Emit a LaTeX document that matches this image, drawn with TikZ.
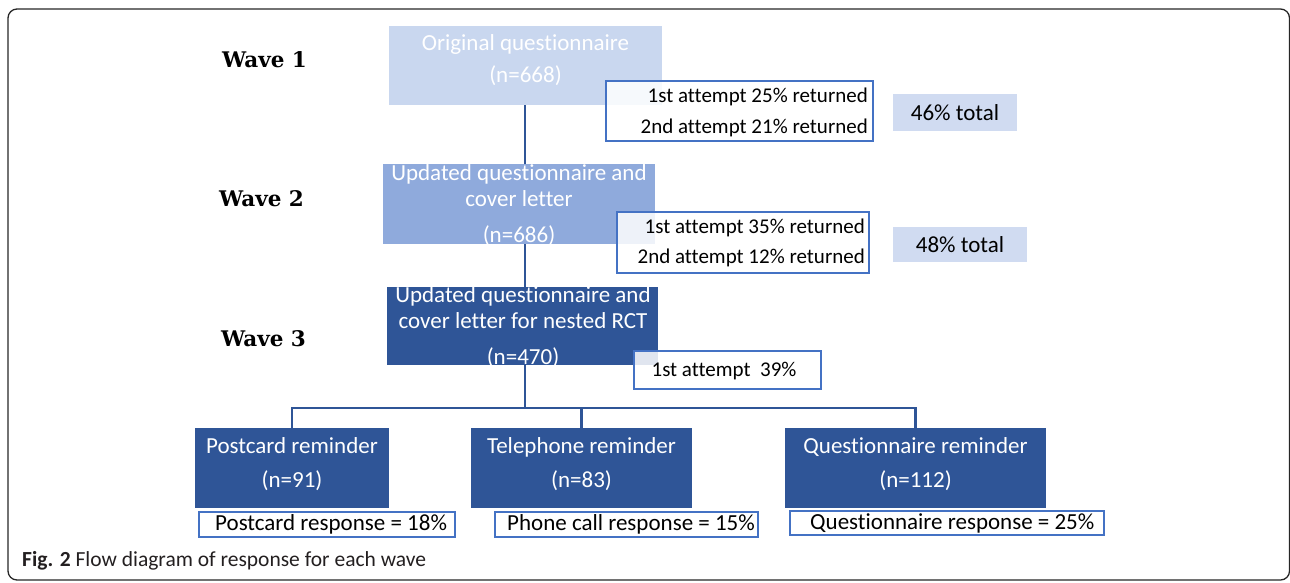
\documentclass[tikz,border=0pt]{standalone}
\usepackage{fontspec}
\setmainfont{Carlito}[Ligatures={NoCommon}]
\newfontfamily\wavefont{DejaVu Serif}
\definecolor{cA}{HTML}{C9D7EF}
\definecolor{cB}{HTML}{8FAADC}
\definecolor{cC}{HTML}{2F5597}
\definecolor{cBorder}{HTML}{4472C4}
\definecolor{cTot}{HTML}{D0DBF1}
\definecolor{cLine}{HTML}{2F5597}
\definecolor{cCap}{HTML}{231F20}
\tikzset{
  rbox/.style={inner sep=0pt, draw=none},
  btext/.style={align=center, text=white, inner sep=0pt, font=\fontsize{23}{26}\selectfont},
  note/.style={draw=cBorder, line width=1.8pt, fill=white, fill opacity=0.85, text opacity=1, inner sep=0pt},
  ntext/.style={align=right, text=black, inner sep=0pt, font=\fontsize{21}{25}\selectfont},
  tot/.style={fill=cTot, inner sep=0pt, text=black, font=\fontsize{23}{26}\selectfont},
  resp/.style={draw=cBorder, line width=1.8pt, fill=white, inner sep=0pt},
  rtext/.style={anchor=west, text=black, inner sep=0pt, font=\fontsize{23}{26}\selectfont},
  wave/.style={inner sep=0pt, font=\wavefont\bfseries\fontsize{21.5}{24}\selectfont},
  conn/.style={draw=cLine, line width=2.3pt}
}
\begin{document}
\begin{tikzpicture}[x=1pt,y=-1pt]
\useasboundingbox (0,0) rectangle (1290,582);
\draw[rounded corners=9pt, line width=1.3pt, color=black!85] (8,9) rectangle (1289.5,580);

% wave labels
\node[wave] (lw1) at (264.5,60) {Wave 1};
\node[wave] (lw2) at (261.5,199) {Wave 2};
\node[wave] (lw3) at (263.5,339) {Wave 3};

% spine coordinates
\coordinate (j) at (525,408);

% wave boxes
\node[rbox, fill=cA, minimum width=273pt, minimum height=79pt] (w1) at (525.5,65.5) {};
\node[btext] (w1t) at (525.5,60) {Original questionnaire\\[6pt](n=668)};
\node[rbox, fill=cB, minimum width=272pt, minimum height=80pt] (w2) at (519,204) {};
\node[btext] (w2t) at (519,205) {Updated questionnaire and\\cover letter\\[10pt](n=686)};
\node[rbox, fill=cC, minimum width=271pt, minimum height=78pt] (w3) at (522.5,326) {};
\node[btext] (w3t) at (523,327) {Updated questionnaire and\\cover letter for nested RCT\\[10pt](n=470)};

% connectors
\draw[conn] (w1.south -| j) -- (w2.north -| j);
\draw[conn] (w2.south -| j) -- (w3.north -| j);
\draw[conn] (w3.south -| j) -- (j);

% notes
\node[note, minimum width=267pt, minimum height=60pt] (n1) at (739.5,111) {};
\node[ntext, anchor=east] (n1t) at (868,112.5) {1st attempt 25\% returned\\[6pt]2nd attempt 21\% returned};
\node[note, minimum width=252pt, minimum height=61pt] (n2) at (743,242.5) {};
\node[ntext, anchor=east] (n2t) at (865,243) {1st attempt 35\% returned\\[5pt]2nd attempt 12\% returned};
\node[note, minimum width=187pt, minimum height=38pt] (n3) at (727.5,370) {};
\node[ntext] (n3t) at (724,371) {1st attempt\ \ 39\%};

% totals
\node[tot, minimum width=124pt, minimum height=37pt] (t1) at (955,112.5) {46\% total};
\node[tot, minimum width=134pt, minimum height=35pt] (t2) at (960,244.5) {48\% total};

% reminder boxes
\node[rbox, fill=cC, minimum width=194pt, minimum height=80pt] (pb) at (292,468) {};
\node[btext] (pbt) at (292,464) {Postcard reminder\\[8pt](n=91)};
\node[rbox, fill=cC, minimum width=221pt, minimum height=80pt] (tb) at (581.5,468) {};
\node[btext] (tbt) at (581.5,464) {Telephone reminder\\[8pt](n=83)};
\node[rbox, fill=cC, minimum width=261pt, minimum height=80pt] (qb) at (915.5,468) {};
\node[btext] (qbt) at (915.5,464) {Questionnaire reminder\\[8pt](n=112)};

\draw[conn] (pb.north) -- (pb.north |- j) -- (qb.north |- j) -- (qb.north);
\draw[conn] (tb.north) -- (tb.north |- j);

% responses
\node[resp, minimum width=256pt, minimum height=25pt] (pr) at (327,524.5) {};
\node[rtext] (prt) at (215,524.5) {Postcard response = 18\%};
\node[resp, minimum width=263pt, minimum height=25pt] (tr) at (626.5,524.5) {};
\node[rtext] (trt) at (507,524.5) {Phone call response = 15\%};
\node[resp, minimum width=314pt, minimum height=24pt] (qr) at (947,523) {};
\node[rtext] (qrt) at (810,523) {Questionnaire response = 25\%};

% caption
\node[anchor=west, inner sep=0pt, text=cCap, font=\fontsize{21.5}{24}\selectfont] (cap) at (22,561) {\textbf{Fig. 2} Flow diagram of response for each wave};
\end{tikzpicture}
\end{document}
